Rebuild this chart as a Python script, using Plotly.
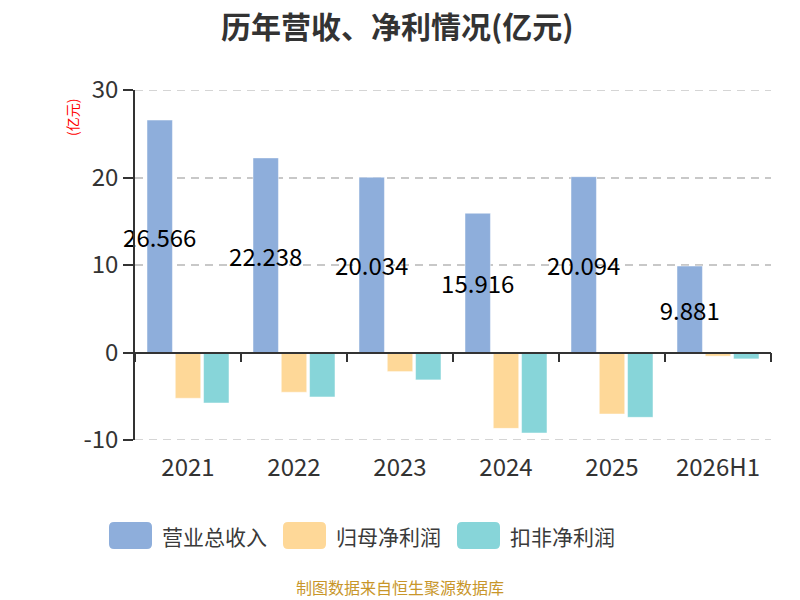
import plotly.graph_objects as go

years = ["2021", "2022", "2023", "2024", "2025", "2026H1"]
revenue = [26.566, 22.238, 20.034, 15.916, 20.094, 9.881]
net_profit = [-5.23, -4.54, -2.18, -8.67, -7.03, -0.42]
net_profit_deducted = [-5.77, -5.08, -3.13, -9.20, -7.41, -0.73]

series_names = ["营业总收入", "归母净利润", "扣非净利润"]
colors = ["#8eaedb", "#fed898", "#87d5d9"]

y_ticks = [-10, 0, 10, 20, 30]

font_cn = "Noto Sans CJK SC"

# page body has an 8px margin, so screen pixel -> figure pixel
OFF = 8
PL, PR, PT, PB = 135 - OFF, 771 - OFF, 90 - OFF, 440 - OFF


def px(x):
    return (x - OFF - PL) / (PR - PL)


def py(y):
    return (PB - (y - OFF)) / (PB - PT)


def rounded_rect(x0, y0, x1, y1, r):
    # screen pixel box -> paper path with rounded corners
    X, Y = px, py
    parts = [
        f"M {X(x0 + r)},{Y(y0)}",
        f"L {X(x1 - r)},{Y(y0)}",
        f"Q {X(x1)},{Y(y0)} {X(x1)},{Y(y0 + r)}",
        f"L {X(x1)},{Y(y1 - r)}",
        f"Q {X(x1)},{Y(y1)} {X(x1 - r)},{Y(y1)}",
        f"L {X(x0 + r)},{Y(y1)}",
        f"Q {X(x0)},{Y(y1)} {X(x0)},{Y(y1 - r)}",
        f"L {X(x0)},{Y(y0 + r)}",
        f"Q {X(x0)},{Y(y0)} {X(x0 + r)},{Y(y0)}",
    ]
    return " ".join(parts) + " Z"


fig = go.Figure()

bar_line = dict(color="rgba(255,255,255,0.6)", width=0.8)
fig.add_trace(go.Bar(
    x=years, y=revenue, name=series_names[0],
    marker=dict(color=colors[0], line=bar_line),
    text=[f"{v:.3f}" for v in revenue],
    textposition="inside", insidetextanchor="middle",
    constraintext="none", textangle=0, cliponaxis=False,
    textfont=dict(color="#000000", size=24, family=font_cn),
    showlegend=False,
))
fig.add_trace(go.Bar(
    x=years, y=net_profit, name=series_names[1],
    marker=dict(color=colors[1], line=bar_line),
    showlegend=False,
))
fig.add_trace(go.Bar(
    x=years, y=net_profit_deducted, name=series_names[2],
    marker=dict(color=colors[2], line=bar_line),
    showlegend=False,
))

# invisible trace to carry the axis line with ticks at y=0
fig.add_trace(go.Scatter(
    x=years, y=[0] * len(years), mode="none", xaxis="x2",
    showlegend=False, hoverinfo="skip",
))

shapes = []
annotations = []

# dashed grid lines at the range edges (plotly drops them there)
for v in (y_ticks[0], y_ticks[-1]):
    shapes.append(dict(
        type="line", xref="paper", yref="y", x0=0, x1=1, y0=v, y1=v,
        line=dict(color="#c8c8c8", width=1.5, dash="8px,6px"),
        layer="below",
    ))

# custom legend: rounded boxes + labels
legend_x = [109, 283, 457]
for i, name in enumerate(series_names):
    x0 = legend_x[i]
    shapes.append(dict(
        type="path", xref="paper", yref="paper",
        path=rounded_rect(x0, 522, x0 + 43, 549, 5),
        fillcolor=colors[i], line=dict(width=0),
        layer="above",
    ))
    annotations.append(dict(
        text=name, xref="paper", yref="paper",
        x=px(x0 + 51), y=py(535.5),
        xanchor="left", yanchor="middle", showarrow=False,
        font=dict(size=21, color="#3a3a3a", family=font_cn),
    ))

annotations.append(dict(
    text="(亿元)", xref="paper", yref="paper",
    x=px(72), y=py(117),
    xanchor="center", yanchor="middle", textangle=-90, showarrow=False,
    font=dict(size=14, color="#ff0000", family=font_cn),
))
annotations.append(dict(
    text="制图数据来自恒生聚源数据库", xref="paper", yref="paper",
    x=px(400), y=py(587),
    xanchor="center", yanchor="middle", showarrow=False,
    font=dict(size=16, color="#c8962a", family=font_cn),
))
# title as an annotation, centred over the picture
annotations.append(dict(
    text="<b>历年营收、净利情况(亿元)</b>", xref="paper", yref="paper",
    x=px(397), y=py(25),
    xanchor="center", yanchor="middle", showarrow=False,
    font=dict(size=30, color="#333333", family=font_cn),
))

fig.update_layout(
    width=800, height=600,
    margin=dict(l=PL, r=800 - PR, t=PT, b=600 - PB, autoexpand=False),
    paper_bgcolor="white", plot_bgcolor="white",
    barmode="group", bargap=0.2, bargroupgap=0.1,
    xaxis=dict(
        type="category", showgrid=False, showline=False,
        ticks="outside", ticklen=6, tickcolor="rgba(0,0,0,0)",
        tickfont=dict(size=24, color="#333333", family=font_cn),
    ),
    xaxis2=dict(
        type="category", matches="x", overlaying="x", anchor="free",
        position=0.25, side="bottom",
        showline=True, linecolor="#333333", linewidth=1.5,
        ticks="outside", ticklen=9, tickwidth=1.5, tickcolor="#333333",
        tickson="boundaries", showticklabels=False, showgrid=False,
    ),
    yaxis=dict(
        range=[-10, 30], tickvals=y_ticks, ticktext=[str(v) for v in y_ticks],
        showline=True, linecolor="#333333", linewidth=1.5,
        ticks="outside", ticklen=10, tickwidth=1.5, tickcolor="#333333",
        showgrid=True, gridcolor="#c8c8c8", griddash="8px,6px", gridwidth=1.5,
        zeroline=False,
        tickfont=dict(size=24, color="#333333", family=font_cn),
    ),
    shapes=shapes,
    annotations=annotations,
    font=dict(family=font_cn),
)

fig.write_html("out.html")
